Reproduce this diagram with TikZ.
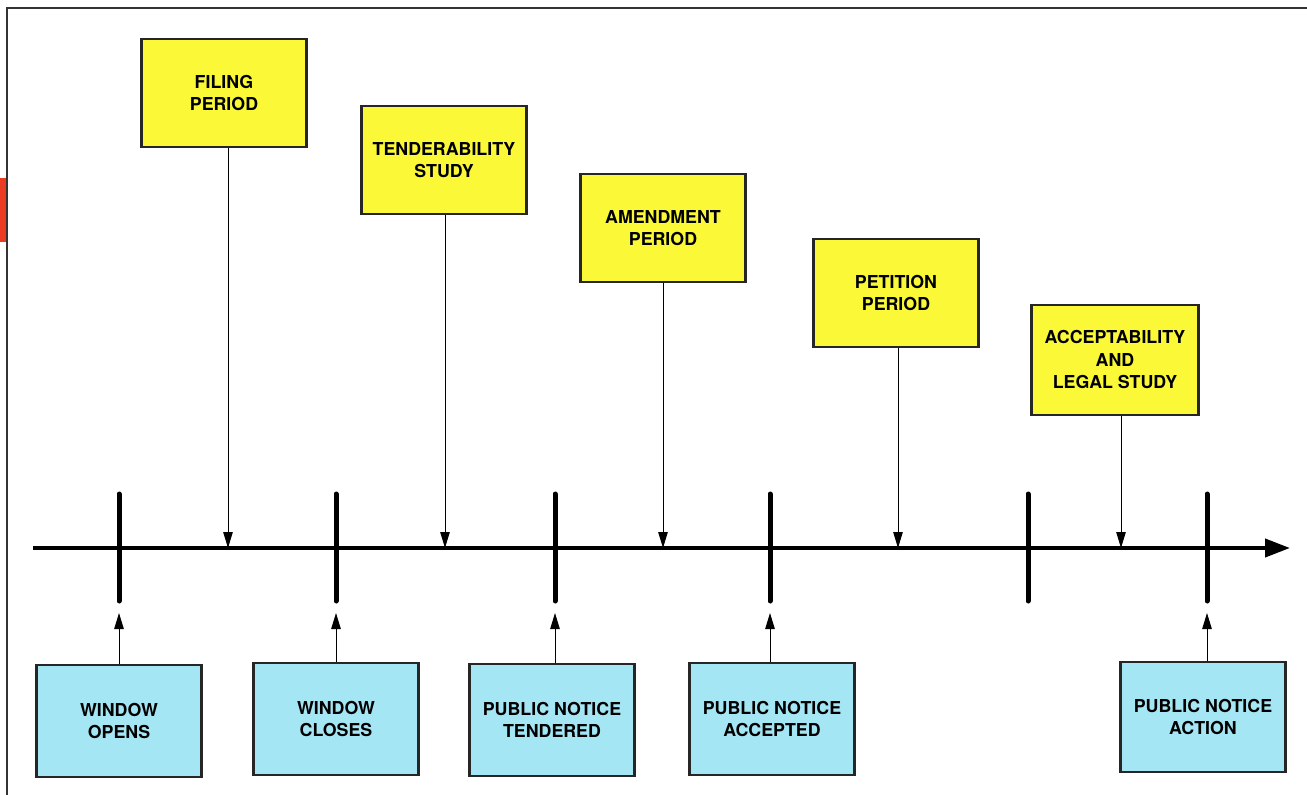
\documentclass[tikz,border=0pt]{standalone}
\usepackage{fontspec}
\setmainfont{TeX Gyre Heros}
\usetikzlibrary{arrows.meta, positioning}
\definecolor{periodyellow}{RGB}{250,248,55}
\definecolor{eventblue}{RGB}{165,230,245}
\definecolor{edgered}{RGB}{235,60,35}

\begin{document}
\begin{tikzpicture}[
   x=1pt, y=-1pt,
   period/.style={draw=black!85, line width=2.5pt, fill=periodyellow, align=center,
                  font=\fontsize{17.8}{22.5}\selectfont\bfseries, inner sep=0pt,
                  minimum width=165pt, minimum height=108pt},
   event/.style={period, fill=eventblue, minimum height=112pt},
   arr/.style={-{Triangle[length=16pt, width=9.5pt]}, line width=1pt},
   tickline/.style={line width=5pt, line cap=round},
   axis/.style={-{Triangle[length=25pt, width=18pt]}, line width=4pt}]

  % frame of the page
  \useasboundingbox (0,0) rectangle (1307,795);
  \draw[line width=2.5pt, black!80] (7,795) -- (7,8) -- (1307,8);
  \fill[edgered] (0,178) rectangle (6,242);

  % time line and its marks
  \coordinate (start) at (33,548);
  \coordinate (end) at (1290,548);
  \draw[axis] (start) -- (end);

  \coordinate (t1) at (119,548);
  \coordinate (t2) at (336,548);
  \coordinate (t3) at (555,548);
  \coordinate (t4) at (770,548);
  \coordinate (t5) at (1028,548);
  \coordinate (t6) at (1207,548);
  \draw[tickline] (119,494) -- (119,601);
  \draw[tickline] (336,494) -- (336,601);
  \draw[tickline] (555,494) -- (555,601);
  \draw[tickline] (770,494) -- (770,601);
  \draw[tickline] (1028,494) -- (1028,601);
  \draw[tickline] (1207,494) -- (1207,601);

  % periods above the line
  \node[period] (filing) at (224,93) {FILING\\PERIOD};
  \node[period] (tender) at (444,160) {TENDERABILITY\\STUDY};
  \node[period] (amend) at (663,228) {AMENDMENT\\PERIOD};
  \node[period] (petition) at (896,293) {PETITION\\PERIOD};
  \node[period, minimum width=167pt, minimum height=110pt]
       (legal) at (1115,360) {ACCEPTABILITY\\AND\\LEGAL STUDY};

  \coordinate (p1) at (228,548);
  \coordinate (p2) at (445,548);
  \coordinate (p3) at (663,548);
  \coordinate (p4) at (898,548);
  \coordinate (p5) at (1121,548);
  \draw[arr] (filing.south -| p1) -- (p1);
  \draw[arr] (tender.south -| p2) -- (p2);
  \draw[arr] (amend.south -| p3) -- (p3);
  \draw[arr] (petition.south -| p4) -- (p4);
  \draw[arr] (legal.south -| p5) -- (p5);

  % events below the line
  \node[event] (opens) at (119,721) {WINDOW\\OPENS};
  \node[event] (closes) at (336,719) {WINDOW\\CLOSES};
  \node[event] (tendered) at (552,720) {PUBLIC NOTICE\\TENDERED};
  \node[event] (accepted) at (772,719) {PUBLIC NOTICE\\ACCEPTED};
  \node[event, minimum height=110pt] (action) at (1203,717) {PUBLIC NOTICE\\ACTION};

  \coordinate (e1) at (119,613);
  \coordinate (e2) at (336,613);
  \coordinate (e3) at (555,613);
  \coordinate (e4) at (770,613);
  \coordinate (e6) at (1207,613);
  \draw[arr] (opens.north -| e1) -- (e1);
  \draw[arr] (closes.north -| e2) -- (e2);
  \draw[arr] (tendered.north -| e3) -- (e3);
  \draw[arr] (accepted.north -| e4) -- (e4);
  \draw[arr] (action.north -| e6) -- (e6);
\end{tikzpicture}
\end{document}
